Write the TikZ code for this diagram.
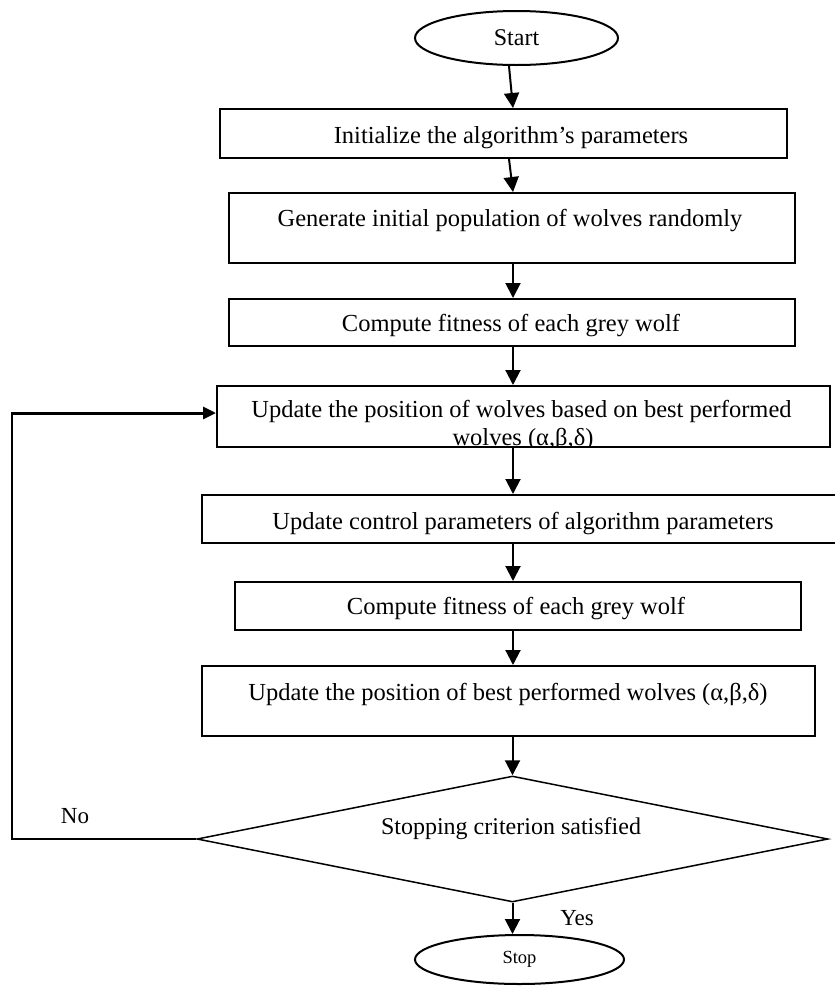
\documentclass[tikz,border=0pt]{standalone}
\usepackage{fontspec}
\setmainfont{Liberation Serif}
\usetikzlibrary{arrows.meta,shapes.geometric}
\begin{document}
\begin{tikzpicture}[x=0.5pt,y=-0.5pt,
  box/.style={draw,line width=1pt,inner sep=0pt,anchor=north west},
  txt/.style={anchor=base,inner sep=0pt,font=\fontsize{12.25}{15}\selectfont},
  lbl/.style={anchor=base,inner sep=0pt,font=\fontsize{11.5}{14}\selectfont},
  term/.style={draw,ellipse,line width=1pt,inner sep=0pt},
  arr/.style={line width=1pt,-{Triangle[length=7.5pt,width=7.5pt]}},
  ]
\useasboundingbox (0,0) rectangle (835,986);
\coordinate (sp0) at (509,0);
\coordinate (sp) at (513,0);
% terminals
\node[term,minimum width=101.5pt,minimum height=27pt,font=\fontsize{12}{14}\selectfont] (start) at (516.5,38) {Start};
\node[term,minimum width=104.5pt,minimum height=24.5pt,font=\fontsize{9.25}{11}\selectfont] (stop) at (519.5,959.5) {Stop};
% boxes
\node[box,minimum width=283.5pt,minimum height=24.5pt] (b1) at (219,108) {};
\node[box,minimum width=283pt,minimum height=35pt] (b2) at (228,192) {};
\node[box,minimum width=283pt,minimum height=23.5pt] (b3) at (228,298) {};
\node[box,minimum width=306.5pt,minimum height=30.5pt] (b4) at (216,385) {};
\node[box,minimum width=322pt,minimum height=24pt] (b5) at (201,494) {};
\node[box,minimum width=283pt,minimum height=24pt] (b6) at (234,581) {};
\node[box,minimum width=306.5pt,minimum height=35pt] (b7) at (201,665) {};
\node[draw,diamond,line width=0.75pt,inner sep=0pt,minimum width=315.5pt,minimum height=63pt] (dia) at (512.5,839) {};
% texts
\node[txt] (t1) at (511,143) {Initialize the algorithm’s parameters};
\node[txt] (t2) at (510,226) {Generate initial population of wolves randomly};
\node[txt] (t3) at (511,331) {Compute fitness of each grey wolf};
\node[txt] (t4a) at (521.5,417) {Update the position of wolves based on best performed};
\begin{scope}
\clip (b4.north west) rectangle ([yshift=1.5pt]b4.south east);
\node[txt] (t4b) at (523,445) {wolves (α,β,δ)};
\end{scope}
\node[txt] (t5) at (523,529) {Update control parameters of algorithm parameters};
\node[txt] (t6) at (516,614) {Compute fitness of each grey wolf};
\node[txt] (t7) at (508,700) {Update the position of best performed wolves (α,β,δ)};
\node[txt,font=\fontsize{12}{14}\selectfont] (td) at (511,834) {Stopping criterion satisfied};
\node[lbl] (no) at (75,823) {No};
\node[lbl] (yes) at (577,925) {Yes};
% connectors
\draw[arr] (start.south -| sp0) -- (b1.north -| sp);
\draw[arr] (b1.south -| sp0) -- (b2.north -| sp);
\draw[arr] (b2.south -| sp) -- (b3.north -| sp);
\draw[arr] (b3.south -| sp) -- (b4.north -| sp);
\draw[arr] (b4.south -| sp) -- (b5.north -| sp);
\draw[arr] (b5.south -| sp) -- (b6.north -| sp);
\draw[arr] (b6.south -| sp) -- (b7.north -| sp);
\draw[arr] (b7.south -| dia.north) -- (dia.north);
\draw[arr] (dia.south) -- (dia.south |- stop.north);
% loop back
\coordinate (lx) at (12,413);
\draw[line width=0.75pt] (dia.west) -- (dia.west -| lx) -- (lx);
\draw[line width=1.5pt,-{Triangle[length=6.5pt,width=6pt]}] ([xshift=-0.375pt]lx) -- (lx -| b4.west);
\end{tikzpicture}
\end{document}
